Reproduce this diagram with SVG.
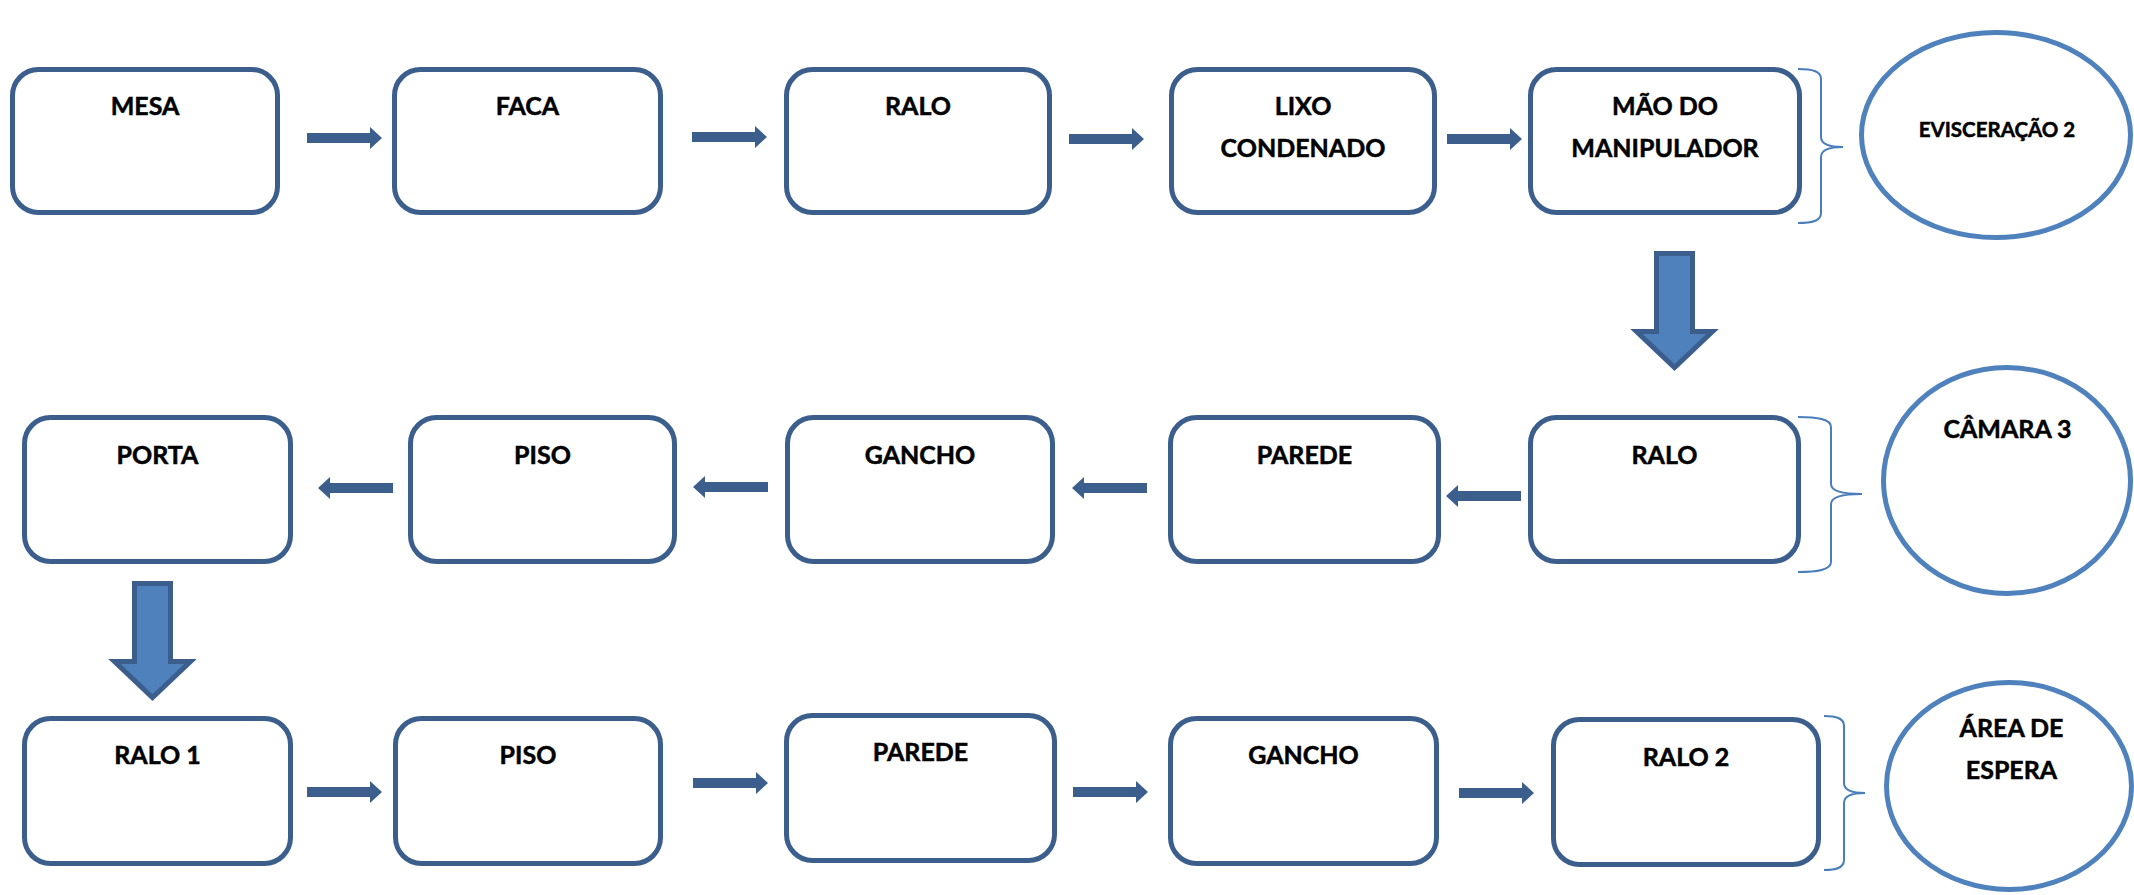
<svg xmlns="http://www.w3.org/2000/svg" xmlns:xlink="http://www.w3.org/1999/xlink" width="2134" height="895" viewBox="0 0 2134 895">
  <style>
    .box { fill: #ffffff; stroke: #3b5e8c; stroke-width: 5; }
    .oval { fill: #ffffff; stroke: #4f81bd; stroke-width: 5; }
    .brace { fill: none; stroke: #4a7ebb; stroke-width: 2; }
    .lbl { font-family: Lato, "Open Sans", "Liberation Sans", sans-serif; font-weight: 700; font-size: 25px; fill: #000000; stroke: #000000; stroke-width: 0.5; text-anchor: middle; }
    .small { font-size: 20.5px; }
    .thin { fill: #3b5e8c; }
    .big { fill: #4f81bd; stroke: #3b5e8c; stroke-width: 5; stroke-linejoin: miter; }
  </style>
  <defs>
    <!-- short block arrow, tail at origin, pointing right -->
    <path id="arrow" d="M0,-5 H63 V-11 L75,0 L63,11 V5 H0 Z"/>
    <!-- wide down arrow, top-left of shaft at origin -->
    <path id="down" d="M0,0 H36 V78 H56 L18,114 L-20,78 H0 Z"/>
  </defs>
  <rect width="2134" height="895" fill="#ffffff"/>

  <g id="connectors">
    <!-- row 1, left to right -->
    <use xlink:href="#arrow" class="thin" transform="translate(307,138)"/>
    <use xlink:href="#arrow" class="thin" transform="translate(692,137)"/>
    <use xlink:href="#arrow" class="thin" transform="translate(1069,139)"/>
    <use xlink:href="#arrow" class="thin" transform="translate(1447,139)"/>
    <!-- row 1 to row 2 -->
    <use xlink:href="#down" class="big" transform="translate(1656.5,253.5)"/>
    <!-- row 2, right to left -->
    <use xlink:href="#arrow" class="thin" transform="translate(1521,496) scale(-1,1)"/>
    <use xlink:href="#arrow" class="thin" transform="translate(1147,488) scale(-1,1)"/>
    <use xlink:href="#arrow" class="thin" transform="translate(768,487) scale(-1,1)"/>
    <use xlink:href="#arrow" class="thin" transform="translate(393,488) scale(-1,1)"/>
    <!-- row 2 to row 3 -->
    <use xlink:href="#down" class="big" transform="translate(134.5,583.5)"/>
    <!-- row 3, left to right -->
    <use xlink:href="#arrow" class="thin" transform="translate(307,792)"/>
    <use xlink:href="#arrow" class="thin" transform="translate(693,783)"/>
    <use xlink:href="#arrow" class="thin" transform="translate(1073,792)"/>
    <use xlink:href="#arrow" class="thin" transform="translate(1459,793)"/>
    <!-- braces grouping each row -->
    <path class="brace" d="M1798,69 C1812,69 1821,71 1821,79 L1821,137 C1821,144 1829,147 1843,147 C1829,147 1821,150 1821,157 L1821,213 C1821,221 1812,223 1798,223"/>
    <path class="brace" d="M1798,417 C1817,417 1831,419 1831,427 L1831,484 C1831,491 1843,494 1862,494 C1843,494 1831,497 1831,504 L1831,562 C1831,570 1817,572 1798,572"/>
    <path class="brace" d="M1824,716 C1836,716 1844,718 1844,726 L1844,783 C1844,790 1852,793 1865,793 C1852,793 1844,796 1844,803 L1844,860 C1844,868 1836,870 1824,870"/>
  </g>

  <!-- row 1 -->
  <g id="mesa"><rect class="box" x="12.5" y="69.5" width="265" height="143" rx="26"/><text class="lbl" x="145" y="115">MESA</text></g>
  <g id="faca"><rect class="box" x="394.5" y="69.5" width="266" height="143" rx="26"/><text class="lbl" x="527.5" y="115">FACA</text></g>
  <g id="ralo-a"><rect class="box" x="786.5" y="69.5" width="263" height="143" rx="26"/><text class="lbl" x="918" y="115">RALO</text></g>
  <g id="lixo"><rect class="box" x="1171.5" y="69.5" width="263" height="143" rx="26"/><text class="lbl" x="1303" y="115">LIXO</text><text class="lbl" x="1303" y="157">CONDENADO</text></g>
  <g id="mao"><rect class="box" x="1530.5" y="69.5" width="269" height="143" rx="26"/><text class="lbl" x="1665" y="115">MÃO DO</text><text class="lbl" x="1665" y="157">MANIPULADOR</text></g>
  <g id="evisceracao"><ellipse class="oval" cx="1996" cy="135" rx="134.5" ry="102.5"/><text class="lbl small" x="1997" y="137">EVISCERAÇÃO 2</text></g>

  <!-- row 2 -->
  <g id="porta"><rect class="box" x="24.5" y="417.5" width="266" height="144" rx="26"/><text class="lbl" x="157.5" y="464">PORTA</text></g>
  <g id="piso-a"><rect class="box" x="410.5" y="417.5" width="264" height="144" rx="26"/><text class="lbl" x="542.5" y="464">PISO</text></g>
  <g id="gancho-a"><rect class="box" x="787.5" y="417.5" width="265" height="144" rx="26"/><text class="lbl" x="920" y="464">GANCHO</text></g>
  <g id="parede-a"><rect class="box" x="1170.5" y="417.5" width="268" height="144" rx="26"/><text class="lbl" x="1304.5" y="464">PAREDE</text></g>
  <g id="ralo-b"><rect class="box" x="1530.5" y="417.5" width="268" height="144" rx="26"/><text class="lbl" x="1664.5" y="464">RALO</text></g>
  <g id="camara"><ellipse class="oval" cx="2007" cy="480.5" rx="123.5" ry="113"/><text class="lbl" x="2007.5" y="438">CÂMARA 3</text></g>

  <!-- row 3 -->
  <g id="ralo1"><rect class="box" x="24.5" y="718.5" width="266" height="145" rx="26"/><text class="lbl" x="157.5" y="764">RALO 1</text></g>
  <g id="piso-b"><rect class="box" x="395.5" y="718.5" width="265" height="145" rx="26"/><text class="lbl" x="528" y="764">PISO</text></g>
  <g id="parede-b"><rect class="box" x="786.5" y="715.5" width="268" height="145" rx="26"/><text class="lbl" x="920.5" y="761">PAREDE</text></g>
  <g id="gancho-b"><rect class="box" x="1170.5" y="718.5" width="266" height="145" rx="26"/><text class="lbl" x="1303.5" y="764">GANCHO</text></g>
  <g id="ralo2"><rect class="box" x="1553.5" y="719.5" width="265" height="145" rx="26"/><text class="lbl" x="1686" y="766">RALO 2</text></g>
  <g id="area-espera"><ellipse class="oval" cx="2009" cy="786" rx="122.5" ry="103.5"/><text class="lbl" x="2011.5" y="737">ÁREA DE</text><text class="lbl" x="2011.5" y="779">ESPERA</text></g>
</svg>
